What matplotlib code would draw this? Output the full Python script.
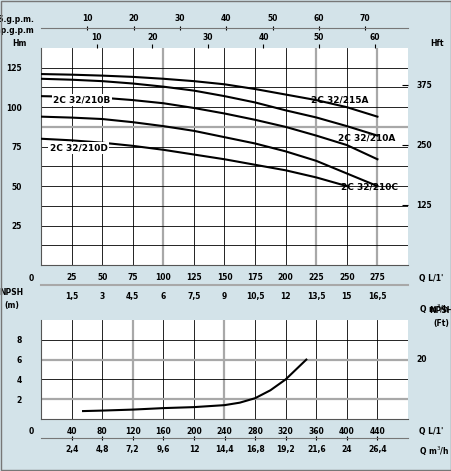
import matplotlib.pyplot as plt
import numpy as np

BG = '#d3e3e9'
GRAY = '#a8a8a8'

# Head curves (Q in L/min, H in m)
q_head = [0, 25, 50, 75, 100, 125, 150, 175, 200, 225, 250, 275]
h_215A = [121, 120.6, 120, 119.2, 118, 116.5, 114.5, 111.5, 108, 104.5, 100, 94]
h_210A = [118, 117.4, 116.5, 115, 113, 110.5, 107, 103, 98, 93.5, 88, 82]
h_210B = [107, 106.6, 106, 104.5, 102.5, 99.5, 96, 92, 87.5, 82, 76, 67]
h_210C = [94, 93.4, 92.5, 90.5, 88, 85, 81, 77, 72, 66, 58, 50]
q_210D = [0, 25, 50, 75, 100, 125, 150, 175, 200, 225, 250]
h_210D = [80, 79, 77.5, 75.5, 73, 70, 67, 63.5, 60, 55.5, 50]
labels = ['2C 32/215A', '2C 32/210A', '2C 32/210B', '2C 32/210C', '2C 32/210D']

# NPSH curve
q_npsh = [55, 80, 120, 160, 200, 240, 260, 280, 300, 320, 347]
npsh = [0.8, 0.85, 0.95, 1.1, 1.2, 1.4, 1.65, 2.1, 2.9, 4.0, 6.0]

fs = 5.5
fw = 'bold'
W, H = 452, 471
fig = plt.figure(figsize=(W / 100, H / 100), dpi=100)
fig.patch.set_facecolor(BG)

def box(x0, y0, x1, y1):
    return [x0 / W, 1 - y1 / H, (x1 - x0) / W, (y1 - y0) / H]

def style(ax):
    ax.set_facecolor('white')
    for s in ax.spines.values():
        s.set_visible(False)
    ax.spines['bottom'].set_visible(True)
    ax.spines['bottom'].set_color('#555555')
    ax.spines['left'].set_visible(True)
    ax.spines['left'].set_color('#555555')
    ax.tick_params(length=0, labelsize=fs, pad=6)

# ---------- head chart ----------
ax = fig.add_axes(box(41, 48, 408, 265))
style(ax)
ax.set_xlim(0, 300)
ax.set_ylim(0, 137.5)
for x in np.arange(25, 300, 25):
    gray = x in (100, 225, 275)
    ax.axvline(x, color=GRAY if gray else 'black', lw=1.6 if gray else 0.6, zorder=1)
for y in np.arange(12.5, 137.5, 12.5):
    gray = y == 87.5
    ax.axhline(y, color=GRAY if gray else 'black', lw=1.6 if gray else 0.6, zorder=1)
ax.set_xticks(np.arange(25, 300, 25))
ax.set_xticklabels([str(v) for v in range(25, 300, 25)], fontweight=fw)
ax.set_yticks([25, 50, 75, 100, 125])
ax.set_yticklabels(['25', '50', '75', '100', '125'], fontweight=fw)
ax.tick_params(axis='y', pad=14)
for hh in (h_215A, h_210A, h_210B, h_210C):
    ax.plot(q_head, hh, color='black', lw=1.5, zorder=3)
ax.plot(q_210D, h_210D, color='black', lw=1.5, zorder=3)
tk = dict(fontsize=6.5, fontweight=fw, zorder=4)
ax.text(268, 103, labels[0], ha='right', **tk)
ax.text(290, 79, labels[1], ha='right', **tk)
ax.text(10, 103, labels[2], ha='left', bbox=dict(fc='white', ec='none', pad=1), **tk)
ax.text(292, 48, labels[3], ha='right', **tk)
ax.text(7, 72.5, labels[4], ha='left', bbox=dict(fc='white', ec='none', pad=1), **tk)
ax.text(-0.04, 1.02, 'Hm', transform=ax.transAxes, ha='right', va='center', fontsize=fs, fontweight=fw)
ax.text(-0.02, -0.04, '0', transform=ax.transAxes, ha='right', va='top', fontsize=fs, fontweight=fw)
ax.text(1.03, -0.04, "Q L/1'", transform=ax.transAxes, ha='left', va='top', fontsize=fs, fontweight=fw)

# right axis in feet
axr = ax.secondary_yaxis('right', functions=(lambda m: m / 0.3048, lambda f: f * 0.3048))
axr.set_yticks([125, 250, 375])
axr.set_yticklabels(['125', '250', '375'], fontweight=fw)
axr.tick_params(length=4, labelsize=fs, direction='in', pad=6)
axr.spines['right'].set_visible(False)
ax.text(1.06, 1.02, 'Hft', transform=ax.transAxes, ha='left', va='center', fontsize=fs, fontweight=fw)

# Imp gpm on top
imp = ax.secondary_xaxis('top', functions=(lambda q: q / 4.546, lambda g: g * 4.546))
imp.set_xticks([10, 20, 30, 40, 50, 60])
imp.set_xticklabels(['10', '20', '30', '40', '50', '60'], fontweight=fw)
imp.tick_params(length=3, labelsize=fs, pad=1)
imp.spines['top'].set_visible(False)
ax.text(-0.02, 1.06, 'Imp.g.p.m', transform=ax.transAxes, ha='right', va='bottom', fontsize=fs, fontweight=fw)

# US gpm line
us = ax.secondary_xaxis(1.092, functions=(lambda q: q / 3.785, lambda g: g * 3.785))
us.set_xticks([10, 20, 30, 40, 50, 60, 70])
us.set_xticklabels([str(v) for v in range(10, 80, 10)], fontweight=fw)
us.tick_params(length=3, labelsize=fs, pad=2, direction='inout')
us.spines['top'].set_color('#777777')
ax.text(-0.02, 1.13, 'U.S.g.p.m.', transform=ax.transAxes, ha='right', va='center', fontsize=fs, fontweight=fw)

# m3/h below
m3 = ax.secondary_xaxis(-0.092, functions=(lambda q: q * 0.06, lambda m: m / 0.06))
m3v = [1.5, 3, 4.5, 6, 7.5, 9, 10.5, 12, 13.5, 15, 16.5]
m3.set_xticks(m3v)
m3.set_xticklabels([f'{v:g}'.replace('.', ',') for v in m3v], fontweight=fw)
m3.tick_params(length=0, labelsize=fs, pad=5)
m3.spines['bottom'].set_color(GRAY)
m3.spines['bottom'].set_linewidth(1.5)
ax.text(1.03, -0.175, 'Q m$^3$/h', transform=ax.transAxes, ha='left', va='top', fontsize=fs, fontweight=fw)

# ---------- NPSH chart ----------
bx = fig.add_axes(box(41, 320, 408, 419))
style(bx)
bx.set_xlim(0, 480)
bx.set_ylim(0, 10)
for x in np.arange(40, 480, 40):
    gray = x in (120, 240)
    bx.axvline(x, color=GRAY if gray else 'black', lw=1.6 if gray else 0.6, zorder=1)
for y in [2, 4, 6, 8]:
    gray = y in (2, 6)
    bx.axhline(y, color=GRAY if gray else 'black', lw=1.6 if gray else 0.6, zorder=1)
bx.set_xticks(np.arange(40, 480, 40))
bx.set_xticklabels([str(v) for v in range(40, 480, 40)], fontweight=fw)
bx.set_yticks([2, 4, 6, 8])
bx.set_yticklabels(['2', '4', '6', '8'], fontweight=fw)
bx.tick_params(axis='y', pad=14)
bx.plot(q_npsh, npsh, color='black', lw=1.5, zorder=3)
bx.text(-0.08, 1.1, 'NPSH\n(m)', transform=bx.transAxes, ha='center', va='bottom', fontsize=fs, fontweight=fw, linespacing=1.6)
bx.text(1.09, 0.92, 'NPSH\n(Ft)', transform=bx.transAxes, ha='center', va='bottom', fontsize=fs, fontweight=fw, linespacing=1.6)
bx.text(-0.02, -0.08, '0', transform=bx.transAxes, ha='right', va='top', fontsize=fs, fontweight=fw)
bx.text(1.03, -0.08, "Q L/1'", transform=bx.transAxes, ha='left', va='top', fontsize=fs, fontweight=fw)
bxr = bx.secondary_yaxis('right', functions=(lambda m: m / 0.3048, lambda f: f * 0.3048))
bxr.set_yticks([20])
bxr.set_yticklabels(['20'], fontweight=fw)
bxr.tick_params(length=0, labelsize=fs, pad=6)
bxr.spines['right'].set_visible(False)

bm3 = bx.secondary_xaxis(-0.19, functions=(lambda q: q * 0.06, lambda m: m / 0.06))
bm3v = [2.4, 4.8, 7.2, 9.6, 12, 14.4, 16.8, 19.2, 21.6, 24, 26.4]
bm3.set_xticks(bm3v)
bm3.set_xticklabels([f'{v:g}'.replace('.', ',') for v in bm3v], fontweight=fw)
bm3.tick_params(length=3, labelsize=fs, pad=4, direction='inout')
bm3.spines['bottom'].set_color('#777777')
bx.text(1.03, -0.26, 'Q m$^3$/h', transform=bx.transAxes, ha='left', va='top', fontsize=fs, fontweight=fw)

# outer border
fig.patches.append(plt.Rectangle((0.002, 0.002), 0.996, 0.996, transform=fig.transFigure,
                                 fill=False, ec='#777777', lw=1))

fig.savefig('out.png', dpi=100, facecolor=BG)
